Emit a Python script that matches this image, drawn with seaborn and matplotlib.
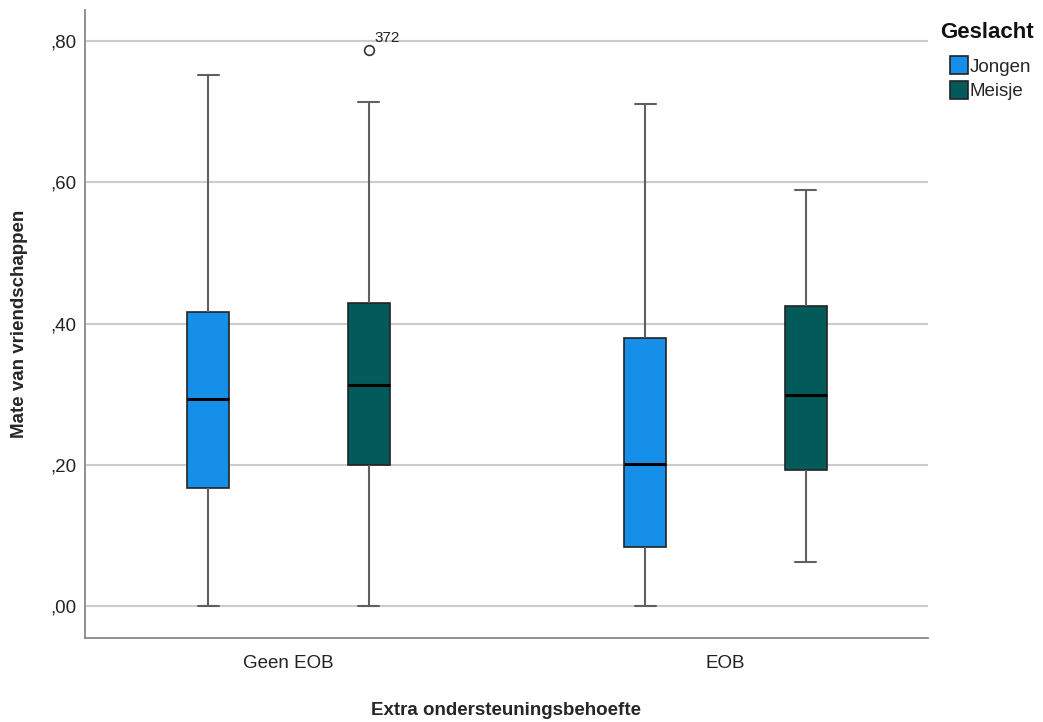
import pandas as pd
import matplotlib.pyplot as plt
import seaborn as sns
from matplotlib.patches import Patch

# categories / groups
categories = ["Geen EOB", "EOB"]
genders = ["Jongen", "Meisje"]
colors = ["#168fe8", "#035a5a"]

# sample values per group (13 points -> quartiles at index 3, 6, 9)
geen_jongen = [0.0, 0.05, 0.11, 0.167, 0.20, 0.25, 0.293, 0.33, 0.38, 0.416, 0.50, 0.62, 0.752]
geen_meisje = [0.0, 0.08, 0.15, 0.200, 0.24, 0.28, 0.313, 0.35, 0.40, 0.429, 0.52, 0.714, 0.787]
eob_jongen = [0.0, 0.03, 0.06, 0.0835, 0.12, 0.16, 0.201, 0.26, 0.32, 0.379, 0.48, 0.60, 0.711]
eob_meisje = [0.062, 0.10, 0.15, 0.193, 0.23, 0.27, 0.299, 0.34, 0.39, 0.425, 0.48, 0.54, 0.589]

outlier_label = "372"
outlier_value = 0.787

rows = []
for cat, gen, vals in [("Geen EOB", "Jongen", geen_jongen), ("Geen EOB", "Meisje", geen_meisje),
                       ("EOB", "Jongen", eob_jongen), ("EOB", "Meisje", eob_meisje)]:
    for v in vals:
        rows.append({"EOB": cat, "Geslacht": gen, "waarde": v})
df = pd.DataFrame(rows)

sns.set_style("white")
plt.rcParams["font.family"] = ["Liberation Sans", "DejaVu Sans"]

fig = plt.figure(figsize=(10.43, 7.22), dpi=100)
ax = fig.add_axes([0.0815, 0.1163, 0.8082, 0.8697])

sns.boxplot(data=df, x="EOB", y="waarde", hue="Geslacht", order=categories, hue_order=genders,
            palette=colors, width=0.736, gap=0.739, dodge=True, saturation=1, ax=ax,
            boxprops=dict(edgecolor="#222222", linewidth=1.2),
            whiskerprops=dict(color="#606060", linewidth=1.5),
            capprops=dict(color="#606060", linewidth=1.5),
            medianprops=dict(color="black", linewidth=2.2),
            flierprops=dict(marker="o", markerfacecolor="none", markeredgecolor="#333333",
                            markersize=7, markeredgewidth=1.2))

ax.annotate(outlier_label, (0.184, outlier_value), xytext=(4, 6), textcoords="offset points",
            fontsize=11, color="#222222")

ax.set_ylim(-0.0453, 0.844)
ax.set_xlim(-0.4657, 1.4634)
ax.set_yticks([0, 0.2, 0.4, 0.6, 0.8])
ax.set_yticklabels([",00", ",20", ",40", ",60", ",80"])
ax.yaxis.grid(True, color="#cccccc", linewidth=1.5)
ax.set_axisbelow(True)
ax.tick_params(axis="both", length=0, labelsize=13.5, colors="#222222")
ax.tick_params(axis="x", pad=12)
ax.tick_params(axis="y", pad=6)
for s in ["top", "right"]:
    ax.spines[s].set_visible(False)
for s in ["left", "bottom"]:
    ax.spines[s].set_color("#888888")
    ax.spines[s].set_linewidth(1.3)

ax.set_xlabel("Extra ondersteuningsbehoefte", fontsize=13.5, fontweight="bold", labelpad=22)
ax.set_ylabel("Mate van vriendschappen", fontsize=13.5, fontweight="bold", labelpad=16)

ax.legend_.remove()
fig.text(940 / 1043, 1 - 33 / 722, "Geslacht", fontsize=16, fontweight="bold",
         va="center", ha="left", color="#111111")
handles = [Patch(facecolor=c, edgecolor="#222222", linewidth=1.2) for c in colors]
fig.legend(handles, genders, loc="upper left", bbox_to_anchor=(0.898, 0.94),
           frameon=False, fontsize=13.5, handlelength=0.95, handleheight=1.05,
           handletextpad=0.1, labelspacing=0.3, borderpad=0.2)

fig.savefig("out.png", dpi=100)
